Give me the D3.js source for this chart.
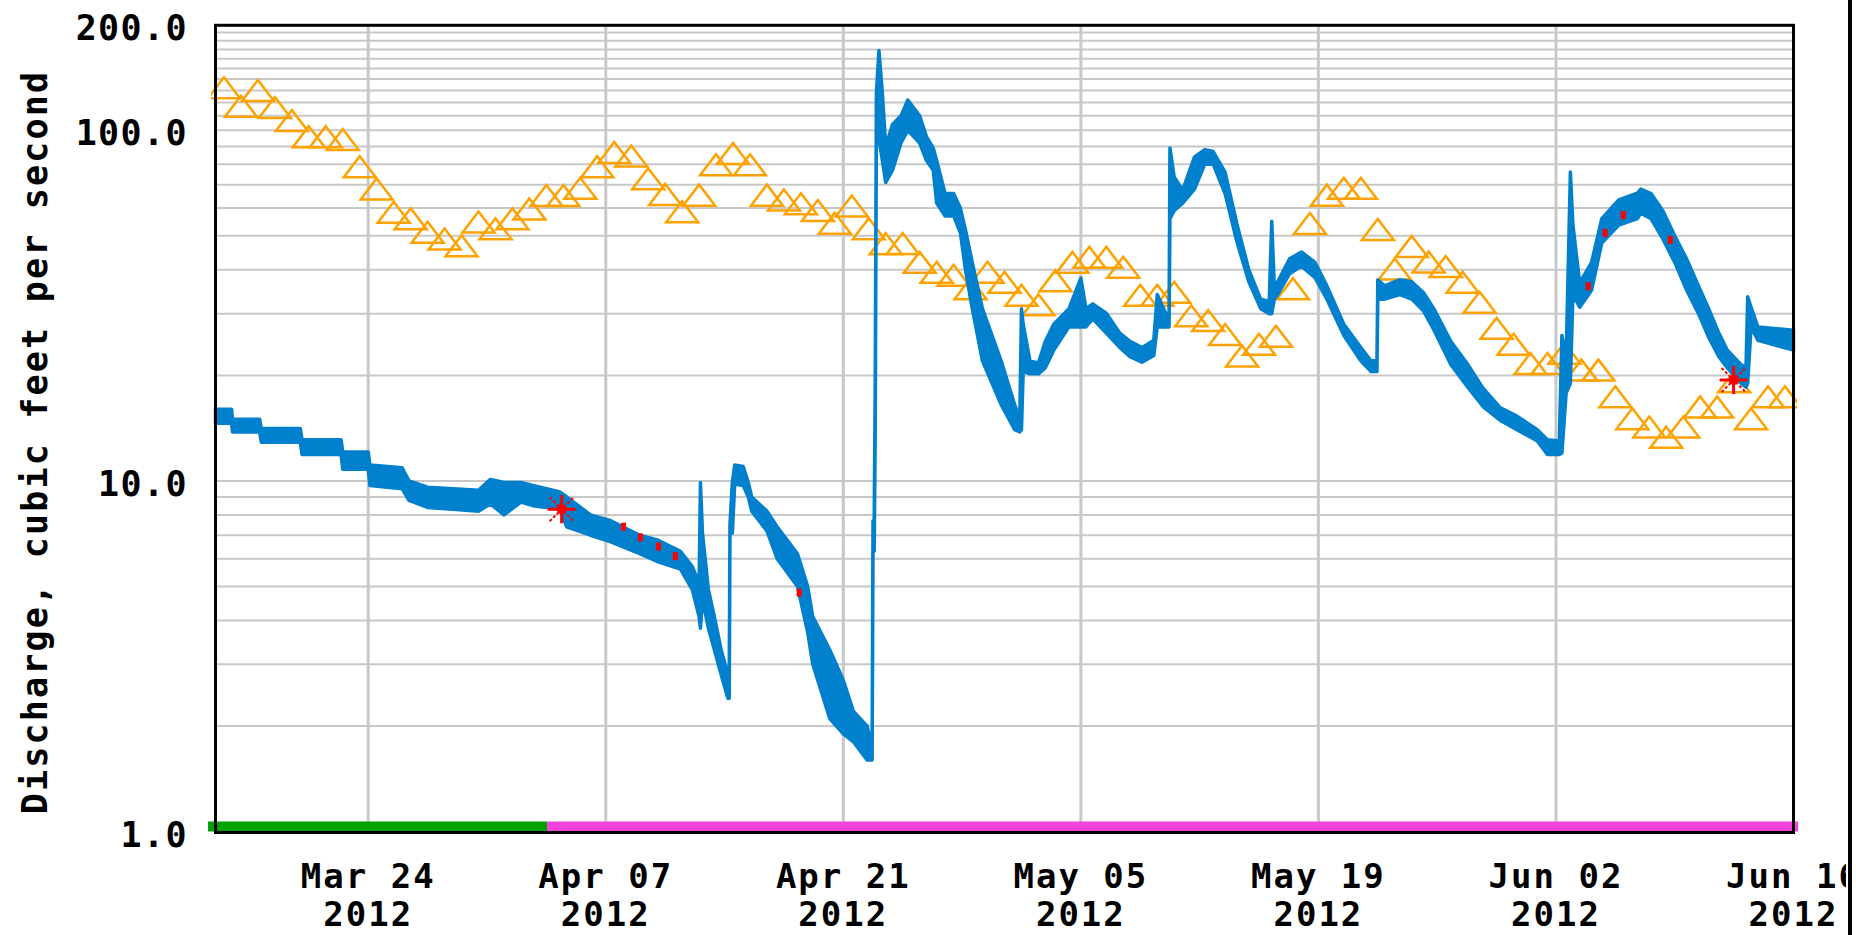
<!DOCTYPE html>
<html>
<head>
<meta charset="utf-8">
<script src="https://cdn.jsdelivr.net/npm/d3@7"></script>
<style>
  body { margin: 0; background: #fff; }
  svg { display: block; }
  text { font-family: "DejaVu Sans Mono", monospace; font-weight: bold; fill: #000; }
</style>
</head>
<body>
<div id="container"></div>
<script>
// define constants
const WIDTH = 1856;
const HEIGHT = 935;
const LEFT = 215.5, RIGHT = 1793.5, TOP = 24.8, BOTTOM = 831.5;
const DAY = 864e5;
const START = Date.UTC(2012, 2, 15);
const END = Date.UTC(2012, 5, 16);

// axis ticks
const xTickDates = ["2012-03-24", "2012-04-07", "2012-04-21", "2012-05-05", "2012-05-19", "2012-06-02", "2012-06-16"];
const xTickLabels = ["Mar 24", "Apr 07", "Apr 21", "May 05", "May 19", "Jun 02", "Jun 16"];
const yTickValues = [1, 10, 100, 200];
const yTickLabels = ["1.0", "10.0", "100.0", "200.0"];
const yGridValues = [2, 3, 4, 5, 6, 7, 8, 9, 10, 20, 30, 40, 50, 60, 70, 80, 90, 100,
  110, 120, 130, 140, 150, 160, 170, 180, 190];

// median of daily values, one per day starting Mar 15 (plotted at noon)
const medianDaily = [131, 116, 128.6, 115, 105.6, 95, 95, 93.2, 78, 67.4,
  57.8, 55.4, 50.7, 48.5, 46.4, 54.2, 51.9, 55.4, 59.1, 64.5,
  64.5, 67.7, 78, 85.6, 83.6, 72, 65, 58, 64.7, 79,
  85, 79, 64.7, 62.7, 61.1, 58.5, 53.8, 60.2, 51.9, 47,
  47.1, 41.6, 39, 38.2, 35, 39, 36.5, 33.5, 31.5, 36.9,
  41.6, 43, 43, 40.3, 33.5, 33.5, 34.2, 29.3, 28.4, 25.9,
  22.5, 24.3, 25.6, 35, 53.7, 64.7, 67.7, 67.7, 51.6, 39.8,
  46.2, 41.7, 40.5, 36.5, 32, 27, 24.3, 21.4, 21.4, 22.9,
  20.5, 20.5, 17.2, 14.9, 14.1, 13.2, 14.1, 16.1, 16.1, 19,
  14.9, 17.2, 17.2];

// discharge: [days since Mar 15, low, high] (spread of the 15-minute values)
const discharge = [
  [0, 14.6, 16.0], [0.95, 14.6, 16.0], [1.0, 13.8, 15.0], [2.6, 13.8, 15.0],
  [2.7, 12.9, 14.1], [5.0, 12.9, 14.1], [5.1, 11.9, 13.1], [7.4, 11.9, 13.1],
  [7.5, 10.8, 12.1], [9.0, 10.8, 12.1], [9.1, 9.7, 11.1], [11.0, 9.5, 10.9],
  [11.4, 8.8, 10.0], [12.5, 8.4, 9.6], [14.0, 8.3, 9.5], [15.5, 8.2, 9.4],
  [16.2, 8.6, 10.1], [17.0, 8.0, 9.9], [18.0, 8.7, 9.9], [18.7, 8.5, 9.7],
  [20.3, 8.3, 9.3], [20.7, 7.4, 9.0], [22.1, 7.0, 8.0], [23.3, 6.7, 7.7],
  [25.0, 6.2, 7.0], [26.0, 5.9, 6.8], [27.4, 5.6, 6.3], [28.1, 4.9, 5.7],
  [28.5, 4.1, 5.1], [28.58, 3.8, 9.9], [28.7, 4.6, 7.1], [29.05, 3.8, 4.9],
  [29.4, 3.3, 4.1], [29.8, 2.8, 3.3], [30.2, 2.4, 2.8], [30.28, 2.4, 3.0],
  [30.32, 7.1, 7.5], [30.46, 7.1, 9.9], [30.6, 9.8, 11.1], [31.1, 9.7, 11.0],
  [31.4, 9.0, 9.9], [31.6, 8.2, 9.0], [32.5, 7.2, 8.2], [33.1, 6.0, 7.4],
  [34.3, 5.0, 6.2], [34.9, 3.7, 5.0], [35.2, 3.0, 4.1], [36.2, 2.1, 3.3],
  [37.0, 1.9, 2.7], [37.6, 1.8, 2.2], [38.4, 1.6, 2.0], [38.7, 1.6, 1.75],
  [38.75, 6.3, 7.7], [38.82, 6.3, 7.7], [38.88, 13.5, 18.8], [38.95, 100, 128],
  [39.1, 95, 169], [39.3, 82, 128], [39.5, 71, 90], [39.9, 77, 104],
  [40.4, 92, 110], [40.8, 100, 122], [41.5, 92, 110], [41.9, 82, 96],
  [42.3, 77, 89], [42.5, 62, 82], [43.0, 57, 66], [43.5, 57, 66],
  [43.9, 51, 60], [44.2, 40, 52], [44.6, 31, 42], [45.2, 22, 31],
  [46.3, 16.5, 22], [47.1, 14.0, 16.5], [47.4, 13.8, 15.0], [47.5, 14.0, 31.0],
  [47.6, 20.5, 28.0], [48.0, 20.2, 22.0], [48.5, 20.2, 21.7], [48.9, 21.0, 25.0],
  [49.4, 23.6, 28.0], [50.3, 27.5, 31.0], [51.0, 27.5, 37.9], [51.3, 27.5, 31.0],
  [51.7, 29.0, 32.0], [52.5, 26.4, 30.1], [53.3, 24.0, 26.4], [53.9, 22.6, 25.0],
  [54.6, 21.8, 24.0], [55.3, 22.8, 25.2], [55.5, 27.5, 34.0], [56.0, 27.5, 30.1],
  [56.2, 27.5, 30.1], [56.25, 56, 89], [56.5, 59, 73.6], [57.0, 62, 67.5],
  [57.7, 68, 84], [58.3, 80, 88], [58.8, 80, 87], [59.5, 66, 76],
  [60.2, 48, 54], [60.9, 37, 40], [61.6, 31, 33], [62.1, 30, 32.5],
  [62.25, 30, 55], [62.4, 33, 36], [62.6, 34, 37], [63.3, 39, 43],
  [64.0, 41, 45], [64.8, 38, 42], [65.5, 33, 36], [66.5, 26, 28],
  [67.5, 22, 24], [68.1, 20.5, 22], [68.45, 20.5, 22], [68.5, 33, 37.5],
  [68.9, 33, 36], [69.8, 34, 37.5], [70.5, 33, 37], [71.2, 30.5, 34.4],
  [71.8, 27, 31], [72.8, 21.5, 25], [73.8, 18.5, 21.5], [74.7, 16.3, 18.4],
  [75.7, 14.9, 16.2], [76.7, 14.0, 15.3], [77.9, 13.0, 14.0], [78.5, 11.9, 13.1],
  [79.2, 11.9, 13.0], [79.35, 12.0, 26.0], [79.6, 17.8, 22.5], [79.85, 19.0, 76.0],
  [80.0, 34.0, 53.7], [80.4, 31.3, 36.7], [81.1, 35.0, 42.0], [81.7, 47.7, 56.0],
  [82.7, 53.7, 63.3], [83.8, 56.0, 66.2], [84.0, 58, 68], [84.6, 56, 66],
  [85.3, 49, 59], [86.0, 42, 50], [86.7, 35, 43], [87.4, 30, 36],
  [88.0, 25.7, 31], [88.6, 22.6, 26.4], [89.1, 21, 23.6], [89.9, 19, 21.5],
  [90.2, 18.5, 21], [90.3, 19, 33.5], [90.5, 27.5, 31.3], [90.9, 25.2, 27.5],
  [93.0, 23.6, 26.9]
];

// short red marks on the discharge line
const flaggedPoints = [[24.05, 7.4], [25.04, 6.9], [26.1, 6.5], [27.1, 6.1], [34.4, 4.8],
  [80.9, 35.9], [81.9, 51], [82.97, 57.3], [85.74, 48.7]];

// measured discharge (red stars)
const measured = [[20.4, 8.3], [89.47, 19.4]];

// data approval periods along the bottom, in days since Mar 15
const periodStarts = [-0.44, 19.54];
const periodEnds = [19.54, 93.27];
const periodColors = ["#00a000", "#f442dc"];

const toDate = (d) => new Date(START + d * DAY);

// create svg element
const canvas = d3.select("#container")
    .append("svg")
    .attr("width", WIDTH)
    .attr("height", HEIGHT);

const xScale = d3.scaleUtc()
    .domain([new Date(START), new Date(END)])
    .range([LEFT, RIGHT]);

const yScale = d3.scaleLog()
    .domain([1, 200])
    .range([BOTTOM, TOP]);

// horizontal gridlines
canvas.append("g")
    .selectAll("line")
    .data(yGridValues)
    .enter()
    .append("line")
    .attr("x1", LEFT)
    .attr("x2", RIGHT)
    .attr("y1", (d) => yScale(d))
    .attr("y2", (d) => yScale(d))
    .attr("stroke", "#c8c8c8")
    .attr("stroke-width", 2);

// vertical gridlines
const xTicks = xTickDates.map((s) => new Date(s + "T00:00:00Z"));
canvas.append("g")
    .selectAll("line")
    .data(xTicks)
    .enter()
    .append("line")
    .attr("x1", (d) => xScale(d))
    .attr("x2", (d) => xScale(d))
    .attr("y1", TOP)
    .attr("y2", BOTTOM)
    .attr("stroke", "#c8c8c8")
    .attr("stroke-width", 3);

// clip for marks
canvas.append("clipPath")
    .attr("id", "plotClip")
    .append("rect")
    .attr("x", LEFT - 4.5)
    .attr("y", TOP)
    .attr("width", RIGHT - LEFT + 8)
    .attr("height", BOTTOM - TOP);

const marks = canvas.append("g").attr("clip-path", "url(#plotClip)");

// median triangles
marks.append("g")
    .selectAll("path")
    .data(medianDaily)
    .enter()
    .append("path")
    .attr("transform", (d, i) => "translate(" + xScale(toDate(i + 0.5)) + "," + yScale(d) + ")")
    .attr("d", "M0,-12L16,9L-16,9Z")
    .attr("fill", "none")
    .attr("stroke", "#ffa200")
    .attr("stroke-width", 2.5);

// discharge band
const band = d3.area()
    .x((d) => xScale(toDate(d[0])))
    .y0((d) => yScale(d[1]))
    .y1((d) => yScale(d[2]));

marks.append("path")
    .datum(discharge)
    .attr("d", band)
    .attr("fill", "#0180cd")
    .attr("stroke", "#0180cd")
    .attr("stroke-width", 3.5)
    .attr("stroke-linejoin", "round");

// red flagged bits
marks.append("g")
    .selectAll("rect")
    .data(flaggedPoints)
    .enter()
    .append("rect")
    .attr("x", (d) => xScale(toDate(d[0])) - 2.5)
    .attr("y", (d) => yScale(d[1]) - 4)
    .attr("width", 5)
    .attr("height", 8)
    .attr("fill", "#ff0000");

// measured discharge stars
const stars = marks.append("g")
    .selectAll("g")
    .data(measured)
    .enter()
    .append("g")
    .attr("transform", (d) => "translate(" + xScale(toDate(d[0])) + "," + yScale(d[1]) + ")")
    .attr("stroke", "#ff0000");

stars.append("path")
    .attr("d", "M-14,0H14M0,-14V14")
    .attr("stroke-width", 3);
stars.append("path")
    .attr("d", "M-12,-12L12,12M-12,12L12,-12")
    .attr("stroke-width", 2)
    .attr("stroke-dasharray", "3,2");
stars.append("circle")
    .attr("r", 5)
    .attr("fill", "#ff0000")
    .attr("stroke", "none");

// approval period bar
canvas.append("g")
    .selectAll("rect")
    .data(periodStarts)
    .enter()
    .append("rect")
    .attr("x", (d) => xScale(toDate(d)))
    .attr("y", BOTTOM - 10)
    .attr("width", (d, i) => xScale(toDate(periodEnds[i])) - xScale(toDate(d)))
    .attr("height", 10)
    .attr("fill", (d, i) => periodColors[i]);

// frame
canvas.append("rect")
    .attr("x", LEFT)
    .attr("y", TOP + 0.5)
    .attr("width", RIGHT - LEFT)
    .attr("height", BOTTOM + 1 - TOP - 0.5)
    .attr("fill", "none")
    .attr("stroke", "#000")
    .attr("stroke-width", 3);

// y tick labels
canvas.append("g")
    .selectAll("text")
    .data(yTickValues)
    .enter()
    .append("text")
    .attr("x", 188)
    .attr("y", (d) => yScale(d) + 3)
    .attr("text-anchor", "end")
    .attr("dominant-baseline", "central")
    .style("font-size", "35px")
    .style("letter-spacing", "1.4px")
    .text((d, i) => yTickLabels[i]);

// x tick labels, two lines each
const xLabels = canvas.append("g")
    .selectAll("g")
    .data(xTicks)
    .enter()
    .append("g");

xLabels.append("text")
    .attr("x", (d) => xScale(d))
    .attr("y", 876)
    .attr("text-anchor", "middle")
    .attr("dominant-baseline", "central")
    .style("font-size", "34px")
    .style("letter-spacing", "2px")
    .text((d, i) => xTickLabels[i]);

xLabels.append("text")
    .attr("x", (d) => xScale(d))
    .attr("y", 914)
    .attr("text-anchor", "middle")
    .attr("dominant-baseline", "central")
    .style("font-size", "34px")
    .style("letter-spacing", "2px")
    .text((d) => d.getUTCFullYear());

// label y axis
canvas.append("text")
    .attr("transform", "translate(35," + 442 + ") rotate(-90)")
    .attr("text-anchor", "middle")
    .attr("dominant-baseline", "central")
    .style("font-size", "35px")
    .style("letter-spacing", "2.2px")
    .text("Discharge, cubic feet per second");

// right edge of the image
canvas.append("rect")
    .attr("x", 1846)
    .attr("y", 0)
    .attr("width", WIDTH - 1846)
    .attr("height", HEIGHT)
    .attr("fill", "#fff");
canvas.append("rect")
    .attr("x", 1848)
    .attr("y", 0)
    .attr("width", 4)
    .attr("height", HEIGHT)
    .attr("fill", "#000");
</script>
</body>
</html>
